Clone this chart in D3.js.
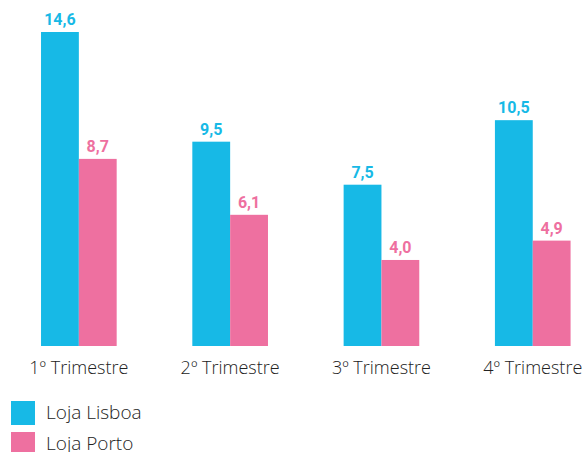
<!DOCTYPE html>
<html>
<head>
<meta charset="utf-8">
<script src="https://cdn.jsdelivr.net/npm/d3@7"></script>
<style>
  html, body { margin: 0; padding: 0; background: #fff; overflow: hidden; }
  svg { display: block; }
</style>
</head>
<body>
<svg id="chart" width="584" height="452"></svg>
<script>
const categories = ["1º Trimestre", "2º Trimestre", "3º Trimestre", "4º Trimestre"];
const seriesNames = ["Loja Lisboa", "Loja Porto"];
const lisboa = [14.6, 9.5, 7.5, 10.5];
const porto = [8.7, 6.1, 4.0, 4.9];
const colors = ["#17b9e6", "#ee70a0"];

const svg = d3.select("#chart");
const baseY = 346;

const rows = categories.map((c, i) => ({ cat: c, values: [lisboa[i], porto[i]] }));

const x0 = d3.scaleBand().domain(categories)
  .range([3.2, 608.4]).paddingInner(0.5).paddingOuter(0.25);
const x1 = d3.scaleBand().domain([0, 1]).range([0, x0.bandwidth()]);
const y = d3.scaleLinear().domain([0, 14.6]).range([baseY, 32]);

const fmt = v => d3.format(".1f")(v).replace(".", ",");

const groups = svg.append("g").selectAll("g")
  .data(rows).join("g")
  .attr("transform", d => `translate(${x0(d.cat)},0)`);

groups.selectAll("rect")
  .data(d => d.values.map((v, k) => ({ v, k })))
  .join("rect")
  .attr("x", d => x1(d.k))
  .attr("width", x1.bandwidth())
  .attr("y", d => y(d.v))
  .attr("height", d => baseY - y(d.v))
  .attr("fill", d => colors[d.k]);

groups.selectAll("text.val")
  .data(d => d.values.map((v, k) => ({ v, k })))
  .join("text")
  .attr("class", "val")
  .attr("x", d => x1(d.k) + x1.bandwidth() / 2)
  .attr("y", d => y(d.v) - 7)
  .attr("text-anchor", "middle")
  .attr("fill", d => colors[d.k])
  .attr("font-family", "Roboto, sans-serif")
  .attr("font-weight", "700")
  .attr("font-size", "16px")
  .text(d => fmt(d.v));

// category labels
svg.append("g").selectAll("text")
  .data(categories).join("text")
  .attr("x", d => x0(d) + x0.bandwidth() / 2)
  .attr("y", 374)
  .attr("text-anchor", "middle")
  .attr("fill", "#222")
  .attr("font-family", "'Open Sans', sans-serif")
  .attr("font-weight", "300")
  .attr("font-size", "18px")
  .text(d => d);

// legend
const legend = svg.append("g").selectAll("g")
  .data(seriesNames).join("g")
  .attr("transform", (d, i) => `translate(11,${401 + i * 31})`);

legend.append("rect")
  .attr("width", 24).attr("height", 24)
  .attr("fill", (d, i) => colors[i]);

legend.append("text")
  .attr("x", 35).attr("y", 18)
  .attr("fill", "#222")
  .attr("font-family", "'Open Sans', sans-serif")
  .attr("font-weight", "300")
  .attr("font-size", "19px")
  .text(d => d);
</script>
</body>
</html>
